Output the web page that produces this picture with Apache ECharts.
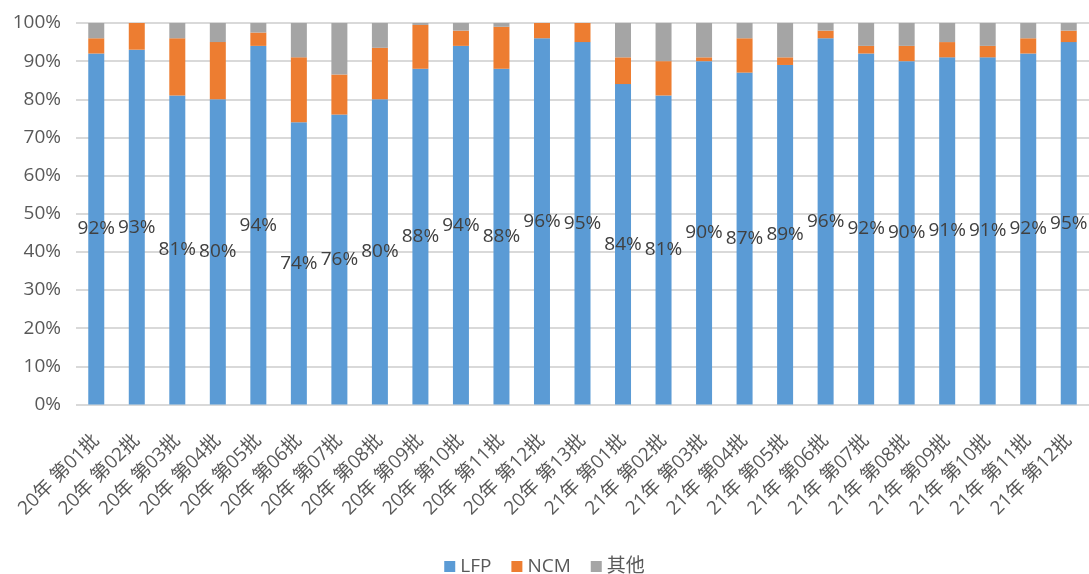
<!DOCTYPE html>
<html>
<head>
<meta charset="utf-8">
<script src="https://cdn.jsdelivr.net/npm/echarts@6/dist/echarts.min.js"></script>
<style>
  html, body { margin: 0; padding: 0; background: #fff; }
  #chart { width: 1089px; height: 574px; }
</style>
</head>
<body>
<div id="chart"></div>
<script>
// Batch labels (year + batch number)
const categories = [
  '20年 第01批','20年 第02批','20年 第03批','20年 第04批','20年 第05批',
  '20年 第06批','20年 第07批','20年 第08批','20年 第09批','20年 第10批',
  '20年 第11批','20年 第12批','20年 第13批',
  '21年 第01批','21年 第02批','21年 第03批','21年 第04批','21年 第05批',
  '21年 第06批','21年 第07批','21年 第08批','21年 第09批','21年 第10批',
  '21年 第11批','21年 第12批'
];

// Share of each battery type per batch, in percent
const lfpShare   = [92, 93, 81, 80, 94, 74, 76, 80, 88, 94, 88, 96, 95, 84, 81, 90, 87, 89, 96, 92, 90, 91, 91, 92, 95];
const ncmShare   = [4, 7, 15, 15, 3.5, 17, 10.5, 13.5, 11.5, 4, 11, 4, 5, 7, 9, 1, 9, 2, 2, 2, 4, 4, 3, 4, 3];
const otherShare = [4, 0, 4, 5, 2.5, 9, 13.5, 6.5, 0.5, 2, 1, 0, 0, 9, 10, 9, 4, 9, 2, 6, 6, 5, 6, 4, 2];

const seriesNames = ['LFP', 'NCM', '其他'];
const seriesColors = ['#5B9BD5', '#ED7D31', '#A5A5A5'];

const FONT = '"Open Sans", "Noto Sans CJK SC", sans-serif';
const TEXT = '#595959';

const chart = echarts.init(document.getElementById('chart'), null, { renderer: 'canvas' });

function barSeries(name, data, color, withLabel) {
  return {
    name: name,
    type: 'bar',
    stack: 'total',
    barWidth: 16,
    data: data,
    itemStyle: { color: color },
    label: withLabel ? {
      show: true,
      position: 'inside',
      formatter: '{c}%',
      color: '#404040',
      fontSize: 19,
      fontFamily: FONT
    } : { show: false },
    emphasis: { disabled: true }
  };
}

chart.setOption({
  animation: false,
  backgroundColor: '#ffffff',
  grid: { left: 76, right: 0, top: 23, bottom: 169.5, containLabel: false },
  legend: {
    data: seriesNames,
    left: 'center',
    top: 552,
    icon: 'rect',
    itemWidth: 11,
    itemHeight: 11,
    itemGap: 20,
    textStyle: { color: TEXT, fontSize: 19, fontFamily: FONT }
  },
  xAxis: {
    type: 'category',
    data: categories,
    axisLine: { show: false },
    axisTick: { show: false },
    axisLabel: {
      interval: 0,
      rotate: 45,
      margin: 33,
      color: TEXT,
      fontSize: 19,
      fontFamily: FONT
    }
  },
  yAxis: {
    type: 'value',
    min: 0,
    max: 100,
    interval: 10,
    axisLine: { show: false },
    axisTick: { show: false },
    axisLabel: {
      formatter: '{value}%',
      margin: 15,
      color: TEXT,
      fontSize: 19,
      fontFamily: FONT
    },
    splitLine: { lineStyle: { color: '#d9d9d9', width: 2 } }
  },
  series: [
    barSeries(seriesNames[0], lfpShare, seriesColors[0], true),
    barSeries(seriesNames[1], ncmShare, seriesColors[1], false),
    barSeries(seriesNames[2], otherShare, seriesColors[2], false)
  ]
});
</script>
</body>
</html>
